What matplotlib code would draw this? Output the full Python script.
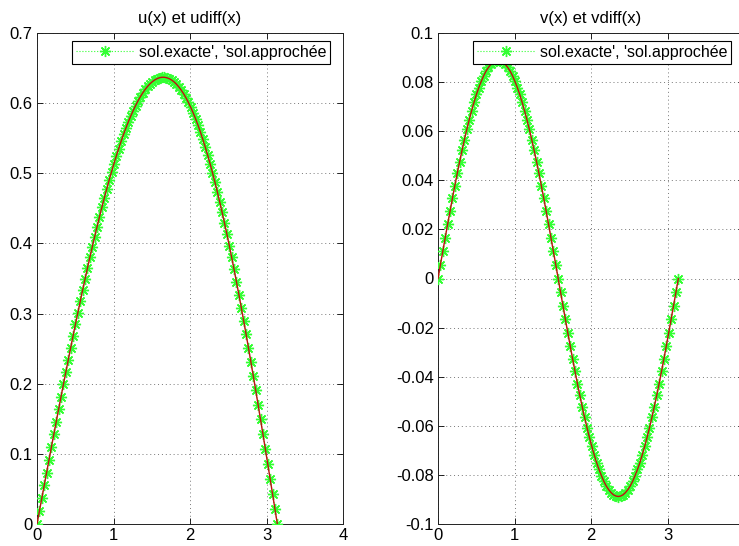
import numpy as np
import matplotlib
matplotlib.use("Agg")
import matplotlib.pyplot as plt

plt.rcParams['font.family'] = ['Liberation Sans', 'DejaVu Sans']

# x grid: 101 points from 0 to pi
x = np.linspace(0, np.pi, 101)

# u(x) values
u_vals = [
    0.0000, 0.0184, 0.0367, 0.0551, 0.0734, 0.0916, 0.1098, 0.1279, 0.1459, 0.1638,
    0.1815, 0.1992, 0.2166, 0.2340, 0.2511, 0.2681, 0.2848, 0.3013, 0.3176, 0.3337,
    0.3495, 0.3650, 0.3802, 0.3951, 0.4097, 0.4240, 0.4379, 0.4515, 0.4647, 0.4775,
    0.4900, 0.5020, 0.5135, 0.5247, 0.5353, 0.5456, 0.5553, 0.5645, 0.5733, 0.5815,
    0.5892, 0.5964, 0.6030, 0.6091, 0.6146, 0.6195, 0.6238, 0.6275, 0.6306, 0.6331,
    0.6350, 0.6363, 0.6369, 0.6369, 0.6362, 0.6349, 0.6330, 0.6304, 0.6271, 0.6232,
    0.6186, 0.6134, 0.6075, 0.6010, 0.5938, 0.5860, 0.5776, 0.5685, 0.5588, 0.5484,
    0.5375, 0.5260, 0.5138, 0.5011, 0.4878, 0.4740, 0.4596, 0.4447, 0.4293, 0.4134,
    0.3970, 0.3802, 0.3629, 0.3451, 0.3270, 0.3085, 0.2896, 0.2704, 0.2509, 0.2310,
    0.2109, 0.1906, 0.1700, 0.1492, 0.1282, 0.1071, 0.0858, 0.0644, 0.0430, 0.0215,
    0.0000,
]

# v(x) values
v_vals = [
    0.0000, 0.0056, 0.0111, 0.0166, 0.0221, 0.0274, 0.0327, 0.0378, 0.0428, 0.0476,
    0.0522, 0.0566, 0.0608, 0.0647, 0.0684, 0.0718, 0.0750, 0.0778, 0.0803, 0.0826,
    0.0845, 0.0860, 0.0872, 0.0881, 0.0886, 0.0888, 0.0886, 0.0881, 0.0872, 0.0860,
    0.0845, 0.0826, 0.0803, 0.0778, 0.0750, 0.0718, 0.0684, 0.0647, 0.0608, 0.0566,
    0.0522, 0.0476, 0.0428, 0.0378, 0.0327, 0.0274, 0.0221, 0.0166, 0.0111, 0.0056,
    0.0000, -0.0056, -0.0111, -0.0166, -0.0221, -0.0274, -0.0327, -0.0378, -0.0428, -0.0476,
    -0.0522, -0.0566, -0.0608, -0.0647, -0.0684, -0.0718, -0.0750, -0.0778, -0.0803, -0.0826,
    -0.0845, -0.0860, -0.0872, -0.0881, -0.0886, -0.0888, -0.0886, -0.0881, -0.0872, -0.0860,
    -0.0845, -0.0826, -0.0803, -0.0778, -0.0750, -0.0718, -0.0684, -0.0647, -0.0608, -0.0566,
    -0.0522, -0.0476, -0.0428, -0.0378, -0.0327, -0.0274, -0.0221, -0.0166, -0.0111, -0.0056,
    0.0000,
]

titles = ["u(x) et udiff(x)", "v(x) et vdiff(x)"]
legend_label = "sol.exacte', 'sol.approchée"
x_ticks = [0, 1, 2, 3, 4]
u_ticks = [0, 0.1, 0.2, 0.3, 0.4, 0.5, 0.6, 0.7]
u_ticklabels = ["0", "0.1", "0.2", "0.3", "0.4", "0.5", "0.6", "0.7"]
v_ticks = [-0.1, -0.08, -0.06, -0.04, -0.02, 0, 0.02, 0.04, 0.06, 0.08, 0.1]
v_ticklabels = ["-0.1", "-0.08", "-0.06", "-0.04", "-0.02", "0", "0.02", "0.04", "0.06", "0.08", "0.1"]

W, H = 739, 546
fig = plt.figure(figsize=(W / 100, H / 100), dpi=100)

ax1 = fig.add_axes([37 / W, 1 - 524 / H, 306 / W, 491 / H])
ax2 = fig.add_axes([438 / W, 1 - 524 / H, 306 / W, 491 / H])

green = "#33ff33"
red = "#c01010"
asterisk = (8, 2, 0)

panels = [
    (ax1, u_vals, (0, 0.7), u_ticks, u_ticklabels, titles[0]),
    (ax2, v_vals, (-0.1, 0.1), v_ticks, v_ticklabels, titles[1]),
]

for ax, vals, ylim, yt, ytl, title in panels:
    ax.plot(x, vals, linestyle=":", color=green, marker=asterisk, markersize=8,
            markeredgewidth=1.0, linewidth=0.8, label=legend_label, zorder=3)
    ax.plot(x, vals, linestyle="-", color=red, linewidth=1.0, zorder=4)
    ax.set_xlim(0, 4)
    ax.set_ylim(*ylim)
    ax.set_xticks(x_ticks)
    ax.set_xticklabels([str(t) for t in x_ticks])
    ax.set_yticks(yt)
    ax.set_yticklabels(ytl)
    ax.grid(True, linestyle=(0, (1, 3)), color="#777777", linewidth=0.7)
    ax.tick_params(direction="in", length=4, width=0.6, top=True, right=True,
                   labelsize=12, pad=3, colors="black")
    for sp in ax.spines.values():
        sp.set_linewidth(0.7)
        sp.set_color("#222222")
    ax.set_title(title, fontsize=12, pad=7)
    leg = ax.legend(loc="upper right", bbox_to_anchor=(1 - 13 / 306, 1 - 8 / 491),
                    borderaxespad=0, fancybox=False, framealpha=1, edgecolor="black",
                    fontsize=11.5, handlelength=3.6, handletextpad=0.3,
                    borderpad=0.25)
    leg.get_frame().set_linewidth(0.8)

fig.savefig("out.png", dpi=100)
